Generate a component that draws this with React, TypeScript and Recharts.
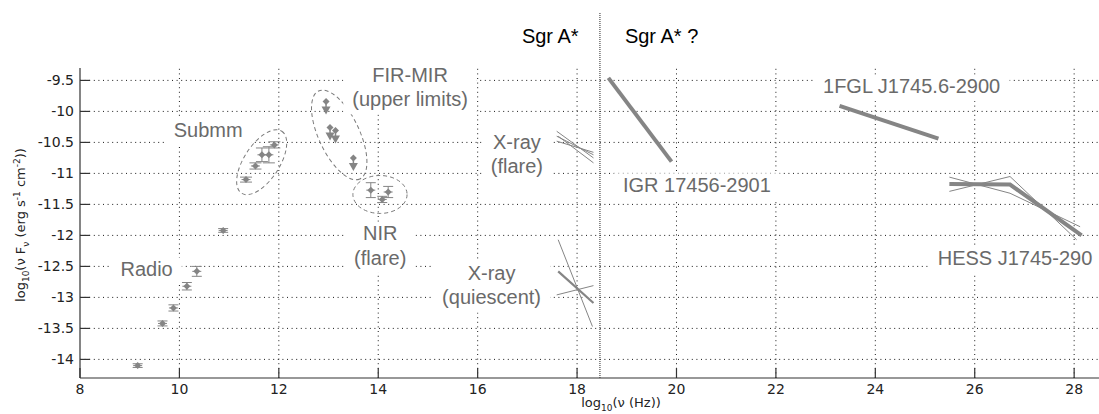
import React from 'react';
import {
  ComposedChart,
  XAxis,
  YAxis,
  Scatter,
  ErrorBar,
  Line,
  ReferenceLine,
  ReferenceDot
} from 'recharts';

// axis ticks
const X_TICKS = [8, 10, 12, 14, 16, 18, 20, 22, 24, 26, 28];
const Y_TICKS = [-14, -13.5, -13, -12.5, -12, -11.5, -11, -10.5, -10, -9.5];

// measured points (log10 nu, log10 nuFnu, error)
const RADIO = [
  { x: 9.16, y: -14.1, err: 0.03 },
  { x: 9.66, y: -13.42, err: 0.04 },
  { x: 9.88, y: -13.17, err: 0.05 },
  { x: 10.15, y: -12.82, err: 0.06 },
  { x: 10.35, y: -12.58, err: 0.08 },
  { x: 10.88, y: -11.92, err: 0.03 }
];
const SUBMM = [
  { x: 11.34, y: -11.1, err: 0.04 },
  { x: 11.53, y: -10.88, err: 0.05 },
  { x: 11.66, y: -10.7, err: 0.11 },
  { x: 11.8, y: -10.7, err: 0.13 },
  { x: 11.91, y: -10.54, err: 0.05 }
];
const FIR_MIR_LIMITS = [
  { x: 12.95, y: -9.84 },
  { x: 13.03, y: -10.26 },
  { x: 13.14, y: -10.31 },
  { x: 13.5, y: -10.75 }
];
const NIR_FLARE = [
  { x: 13.85, y: -11.27, err: 0.12 },
  { x: 14.08, y: -11.42, err: 0.05 },
  { x: 14.2, y: -11.3, err: 0.09 }
];

// power-law fits
const XRAY_FLARE = [
  [{ x: 17.59, y: -10.32 }, { x: 18.33, y: -10.75 }],
  [{ x: 17.59, y: -10.4 }, { x: 18.33, y: -10.7 }],
  [{ x: 17.59, y: -10.48 }, { x: 18.33, y: -10.66 }],
  [{ x: 17.62, y: -10.4 }, { x: 18.33, y: -10.83 }]
];
const XRAY_QUIESCENT = [
  [{ x: 17.62, y: -12.07 }, { x: 18.31, y: -13.47 }],
  [{ x: 17.59, y: -12.96 }, { x: 18.33, y: -12.81 }]
];
const XRAY_QUIESCENT_FIT = [{ x: 17.62, y: -12.58 }, { x: 18.33, y: -13.09 }];
const IGR = [{ x: 18.63, y: -9.46 }, { x: 19.9, y: -10.81 }];
const FGL = [{ x: 23.28, y: -9.91 }, { x: 25.27, y: -10.44 }];
const HESS_FIT = [{ x: 25.49, y: -11.17 }, { x: 26.71, y: -11.18 }, { x: 28.15, y: -12.0 }];
const HESS_BOUNDS = [
  [{ x: 25.49, y: -11.06 }, { x: 26.71, y: -11.32 }, { x: 28.12, y: -11.86 }],
  [{ x: 25.49, y: -11.29 }, { x: 26.71, y: -11.05 }, { x: 28.05, y: -12.07 }]
];

const SGR_DIVIDE = 18.46;
const X_DOMAIN = [8, 28.5];
const Y_DOMAIN = [-14.3, -9.3];

// dashed groupings: major-axis end points + minor/major ratio
const ELLIPSES = [
  { id: 'submm', x1: 11.25, y1: -11.32, x2: 12.06, y2: -10.32, ratio: 0.48 },
  { id: 'fir', x1: 12.8, y1: -9.67, x2: 13.63, y2: -11.09, ratio: 0.42 },
  { id: 'nir', x1: 13.49, y1: -11.34, x2: 14.58, y2: -11.34, ratio: 0.7 }
];

const LABELS = [
  { lines: ['Radio'], x: 9.34, y: -12.54 },
  { lines: ['Submm'], x: 10.58, y: -10.3 },
  { lines: ['FIR-MIR', '(upper limits)'], x: 14.64, y: -9.605 },
  { lines: ['NIR', '(flare)'], x: 14.04, y: -12.16 },
  { lines: ['X-ray', '(flare)'], x: 16.79, y: -10.685 },
  { lines: ['X-ray', '(quiescent)'], x: 16.28, y: -12.8 },
  { lines: ['IGR 17456-2901'], x: 20.41, y: -11.18 },
  { lines: ['1FGL J1745.6-2900'], x: 24.73, y: -9.59 },
  { lines: ['HESS J1745-290'], x: 26.81, y: -12.36 }
];
const TOP_LABELS = [
  { text: 'Sgr A*', x: 17.46, y: -8.78 },
  { text: 'Sgr A* ?', x: 19.7, y: -8.78 }
];

const GRAY = '#858585';
const TEXT_GRAY = '#6a6a6a';
const LABEL_FONT_SIZE = 20;
const LABEL_FAMILY = '"Liberation Sans", Arial, Helvetica, sans-serif';
const TICK_FAMILY = '"DejaVu Sans", sans-serif';

let measureCtx: CanvasRenderingContext2D | null = null;
function textWidth(s: string) {
  if (!measureCtx && typeof document !== 'undefined') {
    measureCtx = document.createElement('canvas').getContext('2d');
  }
  if (!measureCtx) return s.length * LABEL_FONT_SIZE * 0.55;
  measureCtx.font = `${LABEL_FONT_SIZE}px ${LABEL_FAMILY}`;
  return measureCtx.measureText(s).width;
}

const Marker = (props: any) => {
  const { cx, cy } = props;
  if (cx == null || cy == null) return null;
  return (
    <g>
      <path d={`M${cx - 3.5},${cy} L${cx},${cy - 3.5} L${cx + 3.5},${cy} L${cx},${cy + 3.5} Z`} fill={GRAY} />
      <line x1={cx - 4.5} x2={cx + 4.5} y1={cy} y2={cy} stroke={GRAY} strokeWidth={1} />
    </g>
  );
};

const UpperLimit = (props: any) => {
  const { cx, cy } = props;
  if (cx == null || cy == null) return null;
  return (
    <g>
      <path d={`M${cx - 3.5},${cy} L${cx},${cy - 3.5} L${cx + 3.5},${cy} L${cx},${cy + 3.5} Z`} fill={GRAY} />
      <line x1={cx} x2={cx} y1={cy} y2={cy + 8} stroke={GRAY} strokeWidth={1.5} />
      <path d={`M${cx - 4.5},${cy + 5} L${cx + 4.5},${cy + 5} L${cx},${cy + 13} Z`} fill={GRAY} />
    </g>
  );
};

const EllipseShape = (ratio: number) => (props: any) => {
  const { x1, y1, x2, y2 } = props;
  if ([x1, y1, x2, y2].some(v => v == null || isNaN(v))) return null;
  const cx = (x1 + x2) / 2;
  const cy = (y1 + y2) / 2;
  const rx = Math.hypot(x2 - x1, y2 - y1) / 2;
  const ang = (Math.atan2(y2 - y1, x2 - x1) * 180) / Math.PI;
  return (
    <ellipse
      cx={cx}
      cy={cy}
      rx={rx}
      ry={rx * ratio}
      transform={`rotate(${ang} ${cx} ${cy})`}
      fill="none"
      stroke="#7a7a7a"
      strokeWidth={1}
      strokeDasharray="4 3"
    />
  );
};

const LabelShape = (lines: string[]) => (props: any) => {
  const { cx, cy } = props;
  if (cx == null || cy == null) return null;
  const lh = 24.5;
  const w = Math.max(...lines.map(textWidth));
  const first = cy - ((lines.length - 1) * lh) / 2;
  const last = cy + ((lines.length - 1) * lh) / 2;
  const top = first - 0.36 * LABEL_FONT_SIZE - 4;
  const bottom = last + 0.36 * LABEL_FONT_SIZE + 8;
  return (
    <g>
      <rect x={cx - w / 2 - 9} y={top} width={w + 18} height={bottom - top} fill="#ffffff" />
      {lines.map((l, i) => (
        <text
          key={i}
          x={cx}
          y={first + i * lh}
          dy="0.36em"
          textAnchor="middle"
          fill={TEXT_GRAY}
          fontSize={LABEL_FONT_SIZE}
          fontFamily={LABEL_FAMILY}
        >
          {l}
        </text>
      ))}
    </g>
  );
};

const TopLabelShape = (text: string) => (props: any) => {
  const { cx, cy } = props;
  if (cx == null || cy == null) return null;
  return (
    <text x={cx} y={cy} dy="0.36em" textAnchor="middle" fill="#000" fontSize={LABEL_FONT_SIZE} fontFamily={LABEL_FAMILY}>
      {text}
    </text>
  );
};

const YTick = (props: any) => {
  const { x, y, payload } = props;
  return (
    <g>
      <line x1={x} x2={x + 10} y1={y} y2={y} stroke="#333" strokeWidth={1.2} />
      <text x={x - 6} y={y} dy="0.36em" textAnchor="end" fill="#222" fontSize={14} fontFamily={TICK_FAMILY}>
        {String(payload.value)}
      </text>
    </g>
  );
};

const XTick = (props: any) => {
  const { x, y, payload } = props;
  return (
    <g>
      <line x1={x} x2={x} y1={y} y2={y - 10} stroke="#333" strokeWidth={1.2} />
      <text x={x} y={y + 11} dy="0.36em" textAnchor="middle" fill="#222" fontSize={14} fontFamily={TICK_FAMILY}>
        {String(payload.value)}
      </text>
    </g>
  );
};

const thinLine = (data: { x: number; y: number }[], key: string, width = 1) => (
  <Line
    key={key}
    data={data}
    dataKey="y"
    type="linear"
    stroke={GRAY}
    strokeWidth={width}
    dot={false}
    activeDot={false}
    isAnimationActive={false}
  />
);

const gridStyle = { stroke: '#1a1a1a', strokeDasharray: '1 3.6', strokeWidth: 1 };

export default function App() {
  return (
    <div style={{ position: 'absolute', left: 0, top: 0, width: 1099, height: 414, overflow: 'hidden', background: '#fff' }}>
      <ComposedChart width={1099} height={414} margin={{ top: 68, right: 0, bottom: 0, left: 0 }}>
        <XAxis
          dataKey="x"
          type="number"
          domain={X_DOMAIN}
          allowDataOverflow
          ticks={X_TICKS}
          interval={0}
          height={36}
          tickSize={0}
          tickMargin={0}
          tickLine={false}
          tick={<XTick />}
          axisLine={{ stroke: '#333', strokeWidth: 1.2 }}
        />
        <YAxis
          dataKey="y"
          type="number"
          domain={Y_DOMAIN}
          allowDataOverflow
          ticks={Y_TICKS}
          interval={0}
          width={80}
          tickSize={0}
          tickMargin={0}
          tickLine={false}
          tick={<YTick />}
          axisLine={{ stroke: '#333', strokeWidth: 1.2 }}
        />

        {/* dotted grid */}
        {X_TICKS.filter(t => t > X_DOMAIN[0]).map(t => (
          <ReferenceLine key={`gx${t}`} x={t} {...gridStyle} />
        ))}
        {Y_TICKS.map(t => (
          <ReferenceLine key={`gy${t}`} y={t} {...gridStyle} />
        ))}

        {LABELS.map(l => (
          <ReferenceDot key={l.lines.join('')} x={l.x} y={l.y} r={0} ifOverflow="visible" shape={LabelShape(l.lines)} />
        ))}
        {TOP_LABELS.map(l => (
          <ReferenceDot key={l.text} x={l.x} y={l.y} r={0} ifOverflow="visible" shape={TopLabelShape(l.text)} />
        ))}

        <ReferenceLine
          segment={[{ x: SGR_DIVIDE, y: -14.3 }, { x: SGR_DIVIDE, y: -8.41 }]}
          stroke="#222"
          strokeDasharray="1 1"
          strokeWidth={1}
          ifOverflow="visible"
        />

        {ELLIPSES.map(e => (
          <ReferenceLine
            key={e.id}
            segment={[{ x: e.x1, y: e.y1 }, { x: e.x2, y: e.y2 }]}
            ifOverflow="visible"
            shape={EllipseShape(e.ratio)}
          />
        ))}

        {XRAY_FLARE.map((d, i) => thinLine(d, `xf${i}`, 1))}
        {XRAY_QUIESCENT.map((d, i) => thinLine(d, `xq${i}`, 1))}
        {thinLine(XRAY_QUIESCENT_FIT, 'xqfit', 2.2)}
        {thinLine(IGR, 'igr', 4)}
        {thinLine(FGL, 'fgl', 4)}
        {HESS_BOUNDS.map((d, i) => thinLine(d, `hb${i}`, 1))}
        {thinLine(HESS_FIT, 'hess', 4)}

        <Scatter data={RADIO} dataKey="y" shape={Marker} isAnimationActive={false}>
          <ErrorBar dataKey="err" direction="y" width={5} stroke={GRAY} strokeWidth={1} />
        </Scatter>
        <Scatter data={SUBMM} dataKey="y" shape={Marker} isAnimationActive={false}>
          <ErrorBar dataKey="err" direction="y" width={6} stroke={GRAY} strokeWidth={1} />
        </Scatter>
        <Scatter data={NIR_FLARE} dataKey="y" shape={Marker} isAnimationActive={false}>
          <ErrorBar dataKey="err" direction="y" width={5} stroke={GRAY} strokeWidth={1} />
        </Scatter>
        <Scatter data={FIR_MIR_LIMITS} dataKey="y" shape={UpperLimit} isAnimationActive={false} />
      </ComposedChart>

      {/* axis titles */}
      <svg width={1099} height={414} style={{ position: 'absolute', left: 0, top: 0, pointerEvents: 'none' }}>
        <text
          transform="translate(25 225) rotate(-90)"
          textAnchor="middle"
          fill="#222"
          fontSize={13}
          fontFamily={TICK_FAMILY}
        >
          <tspan>log</tspan>
          <tspan fontSize={9} dy={4}>10</tspan>
          <tspan dy={-4}>(ν F</tspan>
          <tspan fontSize={9} dy={4}>ν</tspan>
          <tspan dy={-4}> (erg s</tspan>
          <tspan fontSize={9} dy={-5}>-1</tspan>
          <tspan dy={5}> cm</tspan>
          <tspan fontSize={9} dy={-5}>-2</tspan>
          <tspan dy={5}>))</tspan>
        </text>
        <text x={621} y={407} textAnchor="middle" fill="#222" fontSize={13} fontFamily={TICK_FAMILY}>
          <tspan>log</tspan>
          <tspan fontSize={9} dy={4}>10</tspan>
          <tspan dy={-4}>(ν (Hz))</tspan>
        </text>
      </svg>
    </div>
  );
}
